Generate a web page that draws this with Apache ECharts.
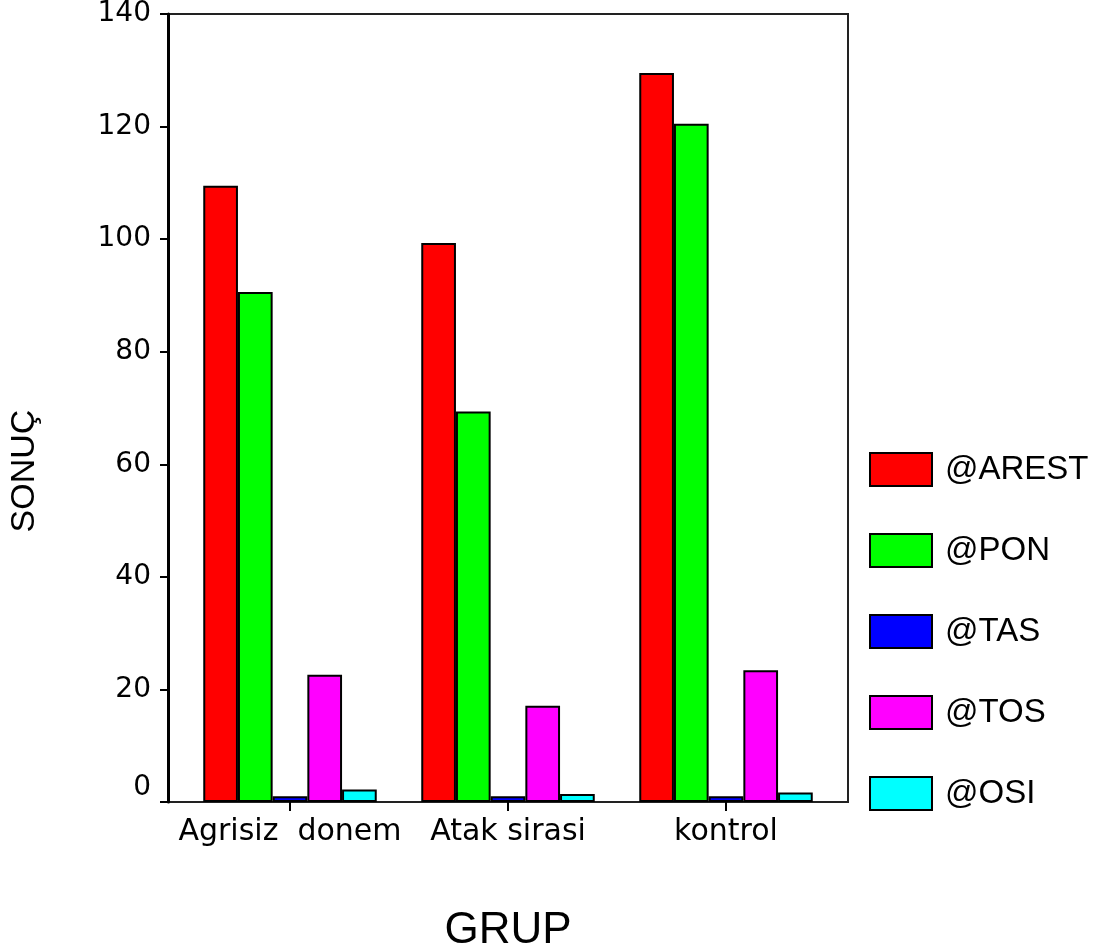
<!DOCTYPE html>
<html>
<head>
<meta charset="utf-8">
<script src="https://cdn.jsdelivr.net/npm/echarts@6/dist/echarts.min.js"></script>
<style>
html,body{margin:0;padding:0;background:#fff;}
#chart{width:1106px;height:951px;}
</style>
</head>
<body>
<div id="chart"></div>
<script>
const categories = ['Agrisiz  donem', 'Atak sirasi', 'kontrol'];
const seriesNames = ['@AREST', '@PON', '@TAS', '@TOS', '@OSI'];
const arest = [109.5, 99.3, 129.5];
const pon = [90.6, 69.4, 120.5];
const tas = [1.0, 1.0, 1.0];
const tos = [22.6, 17.1, 23.4];
const osi = [2.2, 1.4, 1.7];
const colors = ['#FF0000', '#00FF00', '#0000FF', '#FF00FF', '#00FFFF'];
const yTicks = { min: 0, max: 140, interval: 20 };

const FONT = '"Liberation Sans", Arial, sans-serif';
const TICKFONT = '"DejaVu Sans", "Liberation Sans", sans-serif';
const values = [arest, pon, tas, tos, osi];

const chart = echarts.init(document.getElementById('chart'), null, { renderer: 'canvas' });

const option = {
  backgroundColor: '#ffffff',
  animation: false,
  textStyle: { fontFamily: FONT, color: '#000' },
  grid: [
    { left: 168, top: 14, width: 680, height: 788, outerBoundsMode: 'none', containLabel: false, show: true, borderColor: '#222', borderWidth: 2, backgroundColor: 'transparent' },
    { left: 181, top: 14, width: 654, height: 788, outerBoundsMode: 'none', containLabel: false }
  ],
  legend: {
    orient: 'vertical',
    left: 869,
    top: 452,
    padding: 0,
    itemWidth: 62,
    itemHeight: 33,
    itemGap: 46,
    icon: 'rect',
    data: seriesNames,
    itemStyle: { borderColor: '#000', borderWidth: 2 },
    textStyle: { fontFamily: FONT, fontSize: 33, color: '#000', padding: [0, 0, 0, 8], lineHeight: 33 }
  },
  xAxis: [
    {
      type: 'value', gridIndex: 0, show: false, min: 0, max: 1
    },
    {
      type: 'category',
      gridIndex: 1,
      data: categories,
      axisLine: { show: false },
      axisTick: { show: true, alignWithLabel: true, length: 9, lineStyle: { color: '#000', width: 2 } },
      axisLabel: { interval: 0, hideOverlap: false, fontFamily: TICKFONT, fontSize: 30, color: '#000', margin: 15 },
      name: 'GRUP',
      nameLocation: 'middle',
      nameGap: 107,
      nameTextStyle: { fontFamily: FONT, fontSize: 44, color: '#000' }
    }
  ],
  yAxis: [
    {
      type: 'value',
      gridIndex: 0,
      min: yTicks.min, max: yTicks.max, interval: yTicks.interval,
      axisLine: { show: true, lineStyle: { color: '#000', width: 3 } },
      axisTick: { show: true, length: 8, lineStyle: { color: '#000', width: 2 } },
      splitLine: { show: false },
      axisLabel: {
        fontFamily: TICKFONT, fontSize: 28, color: '#000', margin: 17,
        formatter: function (v) { return v === 0 ? '{z|0}' : String(v); },
        rich: { z: { fontFamily: TICKFONT, fontSize: 28, color: '#000', padding: [0, 0, 28, 0] } }
      },
      name: 'SONUÇ',
      nameLocation: 'middle',
      nameRotate: 90,
      nameGap: 126,
      nameTextStyle: { fontFamily: FONT, fontSize: 34, color: '#000', padding: [0, 126, 0, 0] }
    },
    {
      type: 'value', gridIndex: 1, show: false,
      min: yTicks.min, max: yTicks.max, interval: yTicks.interval,
      splitLine: { show: false }
    }
  ],
  series: seriesNames.map((name, i) => ({
    name: name,
    type: 'bar',
    xAxisIndex: 1,
    yAxisIndex: 1,
    data: values[i],
    barWidth: 34.7,
    barGap: '0%',
    itemStyle: { color: colors[i], borderColor: '#000', borderWidth: 2 }
  }))
};

chart.setOption(option);
</script>
</body>
</html>
